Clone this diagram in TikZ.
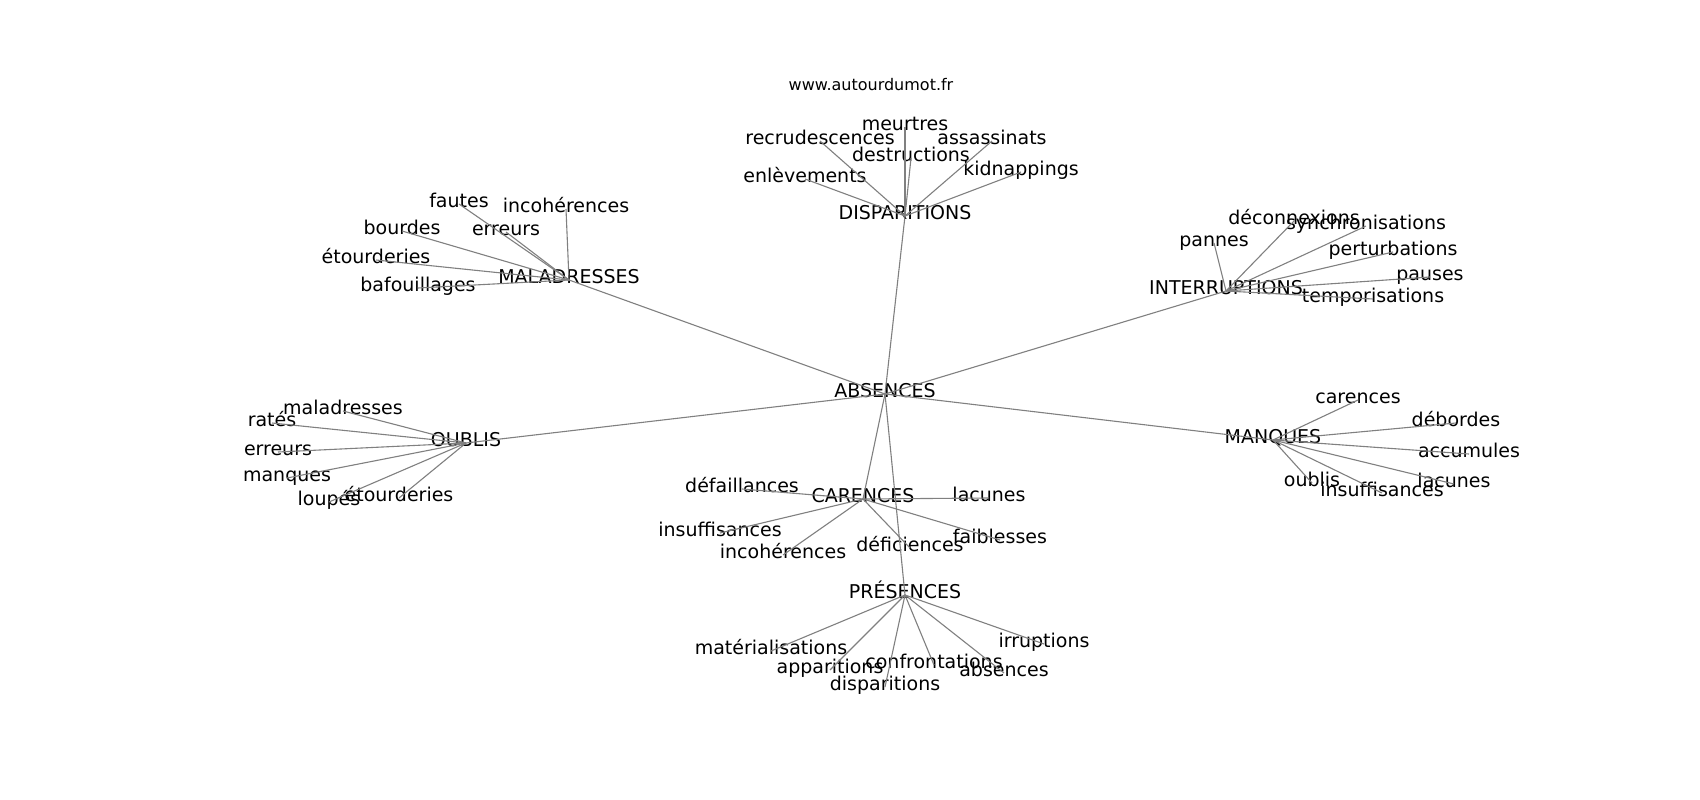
\documentclass[tikz,border=0pt]{standalone}
\usepackage{fontspec}
\setmainfont{DejaVu Sans}
\begin{document}
\begin{tikzpicture}[x=1pt,y=-1pt,
  lbl/.style={inner sep=0pt,text height=0.75em,text depth=0.05em,font=\fontsize{19}{19}\selectfont,text=black},
  urlbox/.style={inner sep=0pt,text height=0.75em,text depth=0.05em,font=\fontsize{16}{16}\selectfont,text=black},
  edge/.style={draw=black!50,line width=1.1pt}]
\useasboundingbox[fill=white] (0,0) rectangle (1700,800);
\begin{scope}[shift={(0,4)}]
\node[urlbox] (url) at (871,83) {www.autourdumot.fr};
% hubs
\node[lbl] (a) at (885,390) {ABSENCES};
\node[lbl] (d) at (905,212) {DISPARITIONS};
\node[lbl] (m) at (569,276) {MALADRESSES};
\node[lbl] (i) at (1226,287) {INTERRUPTIONS};
\node[lbl] (o) at (466,439) {OUBLIS};
\node[lbl] (c) at (863,495) {CARENCES};
\node[lbl] (p) at (905,591) {PRÉSENCES};
\node[lbl] (q) at (1273,436) {MANQUES};
% DISPARITIONS
\node[lbl] (d1) at (905,123) {meurtres};
\node[lbl] (d2) at (820,137) {recrudescences};
\node[lbl] (d3) at (992,137) {assassinats};
\node[lbl] (d4) at (911,154) {destructions};
\node[lbl] (d5) at (805,175) {enlèvements};
\node[lbl] (d6) at (1021,168) {kidnappings};
% MALADRESSES
\node[lbl] (m1) at (459,200) {fautes};
\node[lbl] (m2) at (566,205) {incohérences};
\node[lbl] (m3) at (402,227) {bourdes};
\node[lbl] (m4) at (506,228) {erreurs};
\node[lbl] (m5) at (376,256) {étourderies};
\node[lbl] (m6) at (418,284) {bafouillages};
% INTERRUPTIONS
\node[lbl] (i1) at (1294,217) {déconnexions};
\node[lbl] (i2) at (1366,222) {synchronisations};
\node[lbl] (i3) at (1214,239) {pannes};
\node[lbl] (i4) at (1393,248) {perturbations};
\node[lbl] (i5) at (1430,273) {pauses};
\node[lbl] (i6) at (1373,295) {temporisations};
% OUBLIS
\node[lbl] (o1) at (343,407) {maladresses};
\node[lbl] (o2) at (272,419) {ratés};
\node[lbl] (o3) at (278,448) {erreurs};
\node[lbl] (o4) at (287,474) {manques};
\node[lbl] (o5) at (329,498) {loupés};
\node[lbl] (o6) at (399,494) {étourderies};
% CARENCES
\node[lbl] (c1) at (742,485) {défaillances};
\node[lbl] (c2) at (989,494) {lacunes};
\node[lbl] (c3) at (720,529) {insuffisances};
\node[lbl] (c4) at (783,551) {incohérences};
\node[lbl] (c5) at (910,544) {déficiences};
\node[lbl] (c6) at (1000,536) {faiblesses};
% PRESENCES
\node[lbl] (p1) at (771,647) {matérialisations};
\node[lbl] (p2) at (830,666) {apparitions};
\node[lbl] (p3) at (934,661) {confrontations};
\node[lbl] (p4) at (885,683) {disparitions};
\node[lbl] (p5) at (1004,669) {absences};
\node[lbl] (p6) at (1044,640) {irruptions};
% MANQUES
\node[lbl] (q1) at (1358,396) {carences};
\node[lbl] (q2) at (1456,419) {débordes};
\node[lbl] (q3) at (1469,450) {accumules};
\node[lbl] (q4) at (1454,480) {lacunes};
\node[lbl] (q5) at (1312,479) {oublis};
\node[lbl] (q6) at (1382,489) {insuffisances};
% edges
\foreach \h in {d,m,i,o,c,p,q} \draw[edge] (a.center) -- (\h.center);
\foreach \h in {d,m,i,o,c,p,q} {
  \foreach \k in {1,...,6} \draw[edge] (\h.center) -- (\h\k.center);
}
\end{scope}
\end{tikzpicture}
\end{document}
